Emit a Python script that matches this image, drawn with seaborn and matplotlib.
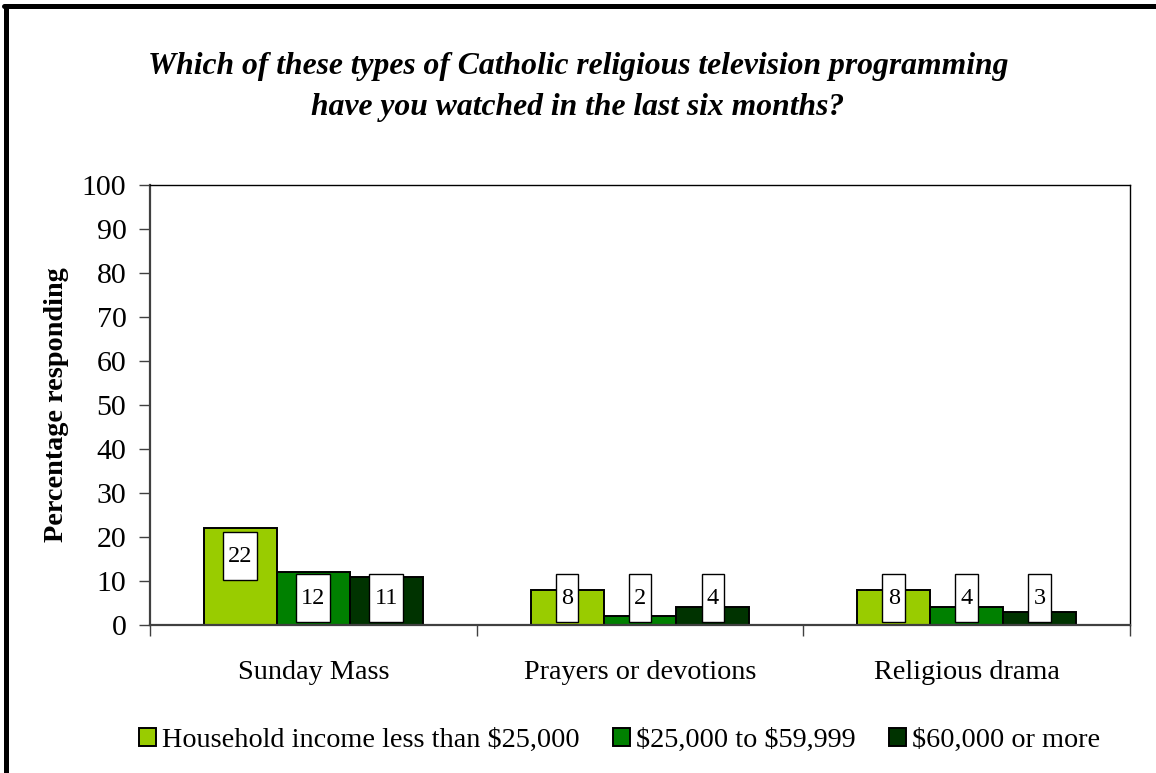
import matplotlib
matplotlib.use("Agg")
import matplotlib.pyplot as plt
from matplotlib.patches import Rectangle, Patch
from matplotlib.lines import Line2D
import seaborn as sns
import pandas as pd

# Survey results (percent responding)
categories = ["Sunday Mass", "Prayers or devotions", "Religious drama"]
groups = ["Household income less than $25,000", "$25,000 to $59,999", "$60,000 or more"]
under_25k = [22, 8, 8]
mid_25_60k = [12, 2, 4]
over_60k = [11, 4, 3]
colors = ["#99CC00", "#008000", "#003300"]
yticks = list(range(0, 101, 10))

title = ("Which of these types of Catholic religious television programming\n"
         "have you watched in the last six months?")

rows = []
for g, vals in zip(groups, [under_25k, mid_25_60k, over_60k]):
    for c, v in zip(categories, vals):
        rows.append({"category": c, "group": g, "value": v})
df = pd.DataFrame(rows)

sns.set_theme(style="white")
plt.rcParams["font.family"] = ["Liberation Serif", "DejaVu Serif"]
plt.rcParams["text.parse_math"] = False
plt.rcParams["text.color"] = "black"
plt.rcParams["axes.labelcolor"] = "black"
plt.rcParams["xtick.color"] = "black"
plt.rcParams["ytick.color"] = "black"

fig = plt.figure(figsize=(11.56, 7.73), dpi=100)
ax = fig.add_axes([150 / 1156, 1 - 625 / 773, 980 / 1156, 440 / 773])

sns.barplot(data=df, x="category", y="value", hue="group", order=categories,
            hue_order=groups, palette=colors, saturation=1, width=0.67,
            edgecolor="black", linewidth=1.4, ax=ax, legend=False)

ax.set_xlim(-0.5, 2.5)
ax.set_ylim(0, 100)
ax.set_yticks(yticks)
ax.set_yticklabels([str(t) for t in yticks], fontsize=21.5)
ax.tick_params(axis="y", direction="out", length=8, width=1, color="#404040",
               labelcolor="black", pad=9, left=True)

# group boundaries carry tick marks, group names sit between them
ax.set_xticks([-0.5, 0.5, 1.5, 2.5], labels=[""] * 4)
ax.set_xticks([0, 1, 2], labels=categories, minor=True)
ax.tick_params(axis="x", which="major", direction="out", length=8, width=1,
               color="#404040", bottom=True)
ax.tick_params(axis="x", which="minor", length=0, pad=25, labelsize=20.3,
               labelcolor="black", bottom=True)
ax.set_xlabel("")
ax.set_ylabel("Percentage responding", fontsize=20.3, fontweight="bold",
              labelpad=9, color="black")

for side in ["left", "bottom"]:
    ax.spines[side].set_color("#404040")
    ax.spines[side].set_linewidth(1.6)
for side in ["top", "right"]:
    ax.spines[side].set_color("black")
    ax.spines[side].set_linewidth(1.0)
    ax.spines[side].set_visible(True)

# value labels in boxed tags, inside the bar end but kept above the baseline
box_h = 10.9
for cont in ax.containers:
    for bar in cont:
        v = bar.get_height()
        xc = bar.get_x() + bar.get_width() / 2
        txt = f"{v:.0f}"
        w = 0.036 + 0.034 * len(txt)
        yc = max(v - 0.9 - box_h / 2, 0.6 + box_h / 2)
        ax.add_patch(Rectangle((xc - w / 2, yc - box_h / 2), w, box_h,
                               facecolor="white", edgecolor="black",
                               linewidth=1.0, zorder=5))
        ax.text(xc, yc, txt, ha="center", va="center", fontsize=17.5,
                color="black", zorder=6)

fig.text(0.5, 1 - 87 / 773, title, ha="center", va="center", fontsize=22.8,
         fontweight="bold", fontstyle="italic", linespacing=1.55, color="black")

handles = [Patch(facecolor=c, edgecolor="black", linewidth=1.4) for c in colors]
fig.legend(handles, groups, loc="center", bbox_to_anchor=(0.536, 1 - 740 / 773),
           ncol=3, frameon=False, fontsize=20.3, handlelength=0.6, handleheight=0.6,
           handletextpad=0.2, columnspacing=1.2, labelcolor="black")

# heavy frame along the top and left edges
fig.add_artist(Line2D([6 / 1156, 6 / 1156], [0, 1 - 6 / 773], color="black",
                      linewidth=3.6, transform=fig.transFigure))
fig.add_artist(Line2D([4 / 1156, 1], [1 - 6 / 773, 1 - 6 / 773], color="black",
                      linewidth=3.6, transform=fig.transFigure))

fig.savefig("out.png", dpi=100)
